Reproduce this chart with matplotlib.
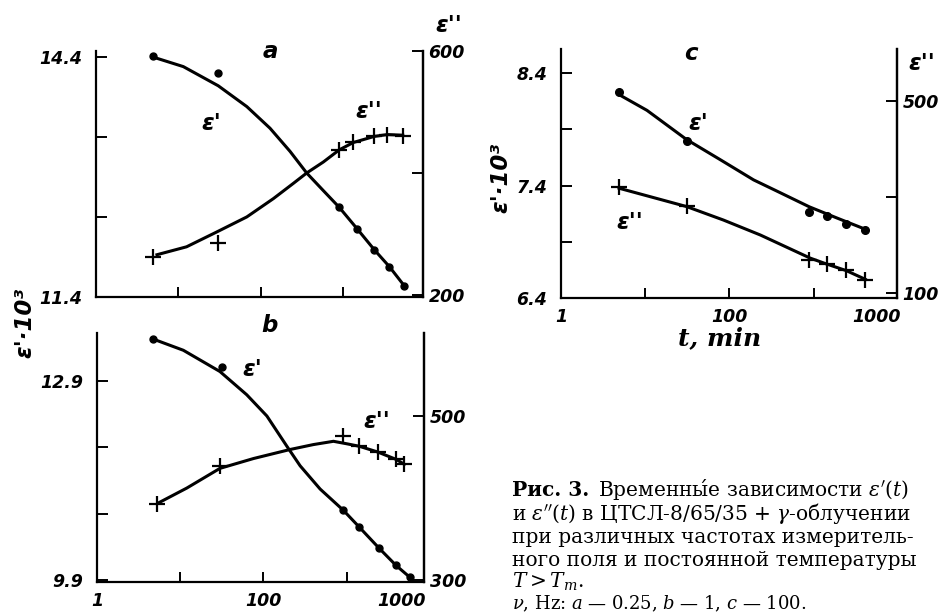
import numpy as np
import matplotlib.pyplot as plt

plt.rcParams['font.family'] = ['DejaVu Sans']
plt.rcParams['mathtext.fontset'] = 'dejavuserif'

# ---- panel a (nu = 0.25 Hz) ----
ta_pts = [4.9, 30, 900, 1500, 2400, 3650, 5550]
eps1_a = [14.41, 14.20, 12.52, 12.25, 11.99, 11.78, 11.54]
ta_crs = [4.9, 30, 900, 1340, 2400, 3450, 5300]
eps2_a = [263, 285, 438, 451, 460, 463, 461]
# smooth curves drawn through the points
ta_c1 = [4.9, 11.5, 30.6, 68, 130, 228, 363, 578, 904, 1496, 2410, 3664, 5570]
e1a_c = [14.40, 14.28, 14.04, 13.78, 13.51, 13.22, 12.95, 12.73, 12.52, 12.25, 11.99, 11.78, 11.54]
ta_c2 = [5.5, 12.6, 29, 68, 143, 250, 363, 578, 904, 1340, 2410, 3465, 5330]
e2a_c = [266, 279, 303, 328, 358, 383, 400, 418, 438, 450, 460, 463, 462]

# ---- panel b (nu = 1 Hz) ----
tb_pts = [4.7, 32, 913, 1410, 2450, 3920, 5760]
eps1_b = [13.53, 13.11, 10.95, 10.70, 10.38, 10.12, 9.94]
tb_crs = [5.2, 30, 913, 1410, 2355, 3920, 4930]
eps2_b = [393, 439, 476, 463, 456, 447, 441]
tb_c1 = [4.7, 10.9, 30, 63, 110, 190, 276, 480, 913, 1410, 2450, 3920, 5760]
e1b_c = [13.53, 13.36, 13.04, 12.69, 12.37, 11.92, 11.62, 11.27, 10.95, 10.70, 10.38, 10.12, 9.94]
tb_c2 = [5.5, 12, 30, 76, 209, 398, 694, 1000, 1410, 2355, 3920, 4930]
e2b_c = [394, 412, 436, 448, 459, 465, 469, 466, 463, 456, 447, 441]

# ---- panel c (nu = 100 Hz) ----
tc_pts = [4.9, 31, 890, 1460, 2450, 4120]
eps1_c = [8.236, 7.797, 7.166, 7.128, 7.057, 7.003]
eps2_c = [320, 282, 169, 161, 148, 128]
tc_c1 = [4.9, 10.5, 31, 78, 194, 367, 890, 1900, 4120]
e1c_c = [8.21, 8.07, 7.81, 7.63, 7.45, 7.35, 7.21, 7.11, 7.01]
tc_c2 = [4.9, 31, 85, 233, 912, 1415, 2450, 4120]
e2c_c = [318, 280, 252, 221, 173, 161, 147, 129]

W, H = 941, 615
fig = plt.figure(figsize=(W / 100, H / 100), dpi=100)

tickfont = dict(family='DejaVu Sans', style='oblique', weight='bold', size=12.5)
lw = 2.2


def px(x, y):
    return x / W, 1 - y / H


def make_panel(l, r, t, b, xmax, ylim1, yt1, yl1, ylim2, yt2, yl2, xlabels):
    ax = fig.add_axes([l / W, 1 - b / H, (r - l) / W, (b - t) / H])
    ax2 = ax.twinx()
    ax.set_xscale('log')
    ax.set_xlim(1, xmax)
    ax.set_ylim(*ylim1)
    ax2.set_ylim(*ylim2)
    for a in (ax, ax2):
        a.spines['top'].set_visible(False)
        for s in a.spines.values():
            s.set_linewidth(1.6)
    ax2.spines['left'].set_visible(False)
    ax2.spines['bottom'].set_visible(False)
    ax.set_yticks(yt1, labels=yl1)
    ax2.set_yticks(yt2, labels=yl2)
    ax.set_xticks([1, 10, 100, 1000], labels=['1', '', '100', ''] if xlabels else ['', '', '', ''])
    ax.xaxis.set_minor_locator(plt.NullLocator())
    if xlabels:
        # the "1000" label sits near the right end in the original figure
        ax.set_xticks([xlabels], labels=['1000'], minor=True)
    ax.tick_params(axis='x', which='both', direction='in', length=7, width=1.4, pad=7)
    ax.tick_params(axis='x', which='minor', length=0)
    ax.tick_params(axis='y', direction='in', length=8, width=1.4, pad=10)
    ax2.tick_params(axis='y', direction='in', length=8, width=1.4, pad=4)
    for lab in ax.get_xticklabels(which='both') + ax.get_yticklabels() + ax2.get_yticklabels():
        lab.set_fontproperties(tickfont)
    return ax, ax2


# panel a
axa, axa2 = make_panel(96, 423, 51, 297, 9400, (11.4, 14.475), [11.4, 12.4, 13.4, 14.4],
                       ['11.4', '', '', '14.4'], (196.7, 600), [200, 400, 600], ['200', '', '600'], None)
axa.plot(ta_c1, e1a_c, color='k', lw=lw)
axa.plot(ta_pts, eps1_a, 'o', color='k', ms=5)
axa2.plot(ta_c2, e2a_c, color='k', lw=lw)
axa2.plot(ta_crs, eps2_a, '+', color='k', ms=11, mew=1.6)

# panel b
axb, axb2 = make_panel(97, 424, 333, 582, 8500, (9.87, 13.62), [9.9, 10.9, 11.9, 12.9],
                       ['9.9', '', '', '12.9'], (297.5, 601), [300, 500], ['300', '500'], 4500)
axb.plot(tb_c1, e1b_c, color='k', lw=lw)
axb.plot(tb_pts, eps1_b, 'o', color='k', ms=5)
axb2.plot(tb_c2, e2b_c, color='k', lw=lw)
axb2.plot(tb_crs, eps2_b, '+', color='k', ms=11, mew=1.6)

# panel c
axc, axc2 = make_panel(561, 897, 49, 298, 9800, (6.397, 8.617), [6.4, 6.9, 7.4, 7.9, 8.4],
                       ['6.4', '', '7.4', '', '8.4'], (90.2, 607), [100, 300, 500], ['100', '', '500'], 5600)
axc.plot(tc_c1, e1c_c, color='k', lw=lw)
axc.plot(tc_pts, eps1_c, 'o', color='k', ms=5.5)
axc2.plot(tc_c2, e2c_c, color='k', lw=lw)
axc2.plot(tc_pts, eps2_c, '+', color='k', ms=11, mew=1.6)

# curve labels and panel letters
lab = dict(family='DejaVu Sans', style='oblique', weight='bold', size=16.5, ha='center', va='center')
for (x, y, s) in [(270, 51, 'a'), (211, 123, "ε'"), (369, 112, "ε''"), (449, 26, "ε''"),
                  (269, 326, 'b'), (252, 369, "ε'"), (377, 421, "ε''"),
                  (691, 54, 'c'), (698, 123, "ε'"), (630, 223, "ε''"), (922, 63, "ε''")]:
    fig.text(*px(x, y), s, **lab)

fig.text(*px(25, 323), "ε'·10³", rotation=90, **lab)
fig.text(*px(501, 178), "ε'·10³", rotation=90, **lab)
fig.text(*px(720, 338), "t, min", family='DejaVu Serif', style='italic', weight='bold',
         size=18, ha='center', va='center')

# caption (runs off the right edge, as in the scan)
cap = dict(family='DejaVu Serif', size=14.5, ha='left', va='baseline')
x0 = 512
t1 = fig.text(*px(x0, 496), "Рис. 3.", weight='bold', **cap)
fig.canvas.draw()
bb = t1.get_window_extent()
fig.text((bb.x1 + 9) / W, 1 - 496 / H, "Временны́е зависимости $\\varepsilon'(t)$", **cap)
fig.text(*px(x0, 520), "и $\\varepsilon''(t)$ в ЦТСЛ-8/65/35 + $\\gamma$-облучении", **cap)
fig.text(*px(x0, 543), "при различных частотах измеритель-", **cap)
fig.text(*px(x0, 566), "ного поля и постоянной температуры", **cap)
fig.text(*px(x0, 588), "$T > T_m$.", **cap)
fig.text(*px(x0, 609), "$\\nu$, Hz: $a$ — 0.25, $b$ — 1, $c$ — 100.",
         family='DejaVu Serif', size=13, ha='left', va='baseline')

fig.savefig("out.png", dpi=100)
